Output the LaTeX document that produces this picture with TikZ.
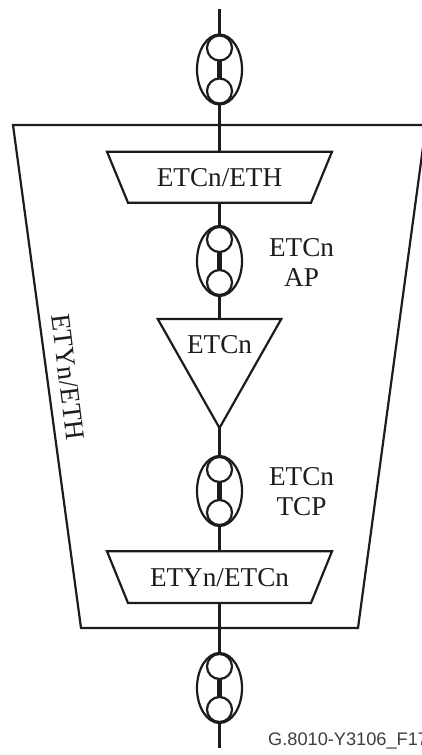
\documentclass[tikz,border=0pt]{standalone}
\usepackage{fontspec}
\setmainfont{Liberation Serif}
\newfontfamily\capfont{Liberation Sans}
\usetikzlibrary{shapes.geometric}
\definecolor{ink}{HTML}{1E1C1A}
\tikzset{
  link/.style={draw=ink,line width=2.2pt},
  barlink/.style={draw=ink,line width=5pt},
  outline/.style={draw=ink,line width=2.2pt,line join=miter},
  shapebox/.style={draw=ink,line width=2.2pt,inner sep=0pt,outer sep=0pt},
  port/.style={shapebox,ellipse,minimum width=45pt,minimum height=70pt},
  portdot/.style={shapebox,circle,minimum size=25pt},
  conn/.style={shapebox,isosceles triangle,isosceles triangle stretches=true,
     shape border rotate=-90,minimum width=123.5pt,minimum height=109pt},
  lab/.style={text=ink,inner sep=0pt,font=\fontsize{27.2}{29}\selectfont},
}
\begin{document}
\begin{tikzpicture}[x=1pt,y=-1pt]
\clip (0,0) rectangle (422,755);
\fill[white] (0,0) rectangle (422,755);
\coordinate (top) at (219.5,9);
\coordinate (bot) at (219.5,748);
% outer adaptation
\draw[outline] (13,125) -- (426,125) -- (358,628) -- (81,628) -- cycle;
% adaptations
\draw[outline] (107,151.7) -- (332,151.7) -- (311,202.7) -- (128,202.7) -- cycle;
\draw[outline] (107,551.3) -- (332,551.3) -- (311,603) -- (128,603) -- cycle;
\coordinate (ad1n) at (219.5,151.7);
\coordinate (ad1s) at (219.5,202.7);
\coordinate (ad2n) at (219.5,551.3);
\coordinate (ad2s) at (219.5,603);
% connection
\node[conn,anchor=apex] (tri) at (219.5,428) {\phantom{M}};
% ports
\foreach \nm/\cy in {a/69.5,b/261,c/491,d/688}{
  \node[port] (p\nm) at (219.5,\cy) {};
  \node[portdot] (p\nm u) at (219.5,\cy-21.5) {};
  \node[portdot] (p\nm l) at (219.5,\cy+21.5) {};
  \draw[barlink] (p\nm u) -- (p\nm l);
}
% connectors
\draw[link] (top) -- (pa.north);
\draw[link] (pa.south) -- (ad1n);
\draw[link] (ad1s) -- (pb.north);
\coordinate (tritop) at (tri.left corner -| tri.apex);
\draw[link] (pb.south) -- (tritop);
\draw[link] (tri.apex) -- (pc.north);
\draw[link] (pc.south) -- (ad2n);
\draw[link] (ad2s) -- (pd.north);
\draw[link] (pd.south) -- (bot);
% labels
\node[lab] (t1) at (219.5,178) {ETCn/ETH};
\node[lab] (t2) at (219.5,345) {ETCn};
\node[lab] (t3) at (219.5,578) {ETYn/ETCn};
\node[lab,align=center] (t4) at (301.5,262) {ETCn\\[1pt]AP};
\node[lab,align=center] (t5) at (301.5,492) {ETCn\\[1pt]TCP};
\node[lab,rotate=-83] (t6) at (68,377) {ETYn/ETH};
\node[text=ink!85,inner sep=0pt,anchor=base west,font=\capfont\fontsize{18.2}{20}\selectfont] (t7) at (268,745) {G.8010-Y3106\_F17};
\end{tikzpicture}
\end{document}
